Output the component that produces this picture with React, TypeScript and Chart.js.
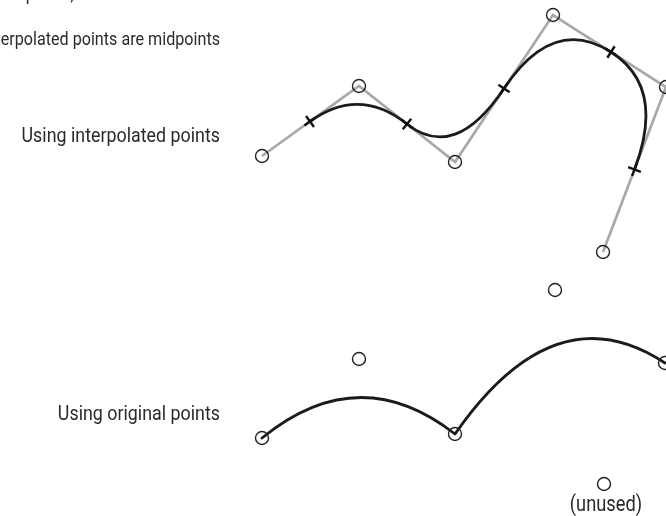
import React, { useEffect, useRef } from "react";
import { Chart, registerables } from "chart.js";

Chart.register(...registerables);

// Diagram space: x to the right, y downward, 666 x 516 units
// Upper figure: original (control) points
const topPtsX = [262, 359, 455, 553, 666, 603];
const topPtsY = [156, 86, 162, 15, 87, 252];
// Upper figure: interpolated points (midpoints of the segments)
const midPtsX = [310, 407, 504, 611, 634.5];
const midPtsY = [121.5, 124, 88.5, 52, 169.5];
// Lower figure: original points (last one unused)
const botPtsX = [262, 359, 455, 555, 665, 604];
const botPtsY = [438, 359, 434, 290, 363, 484];

// Text labels
const labelTexts = [
  "the points, used as control",
  "Interpolated points are midpoints",
  "Using interpolated points",
  "Using original points",
  "(unused)",
];
const labelX = [188, 220, 220, 220, 606];
const labelY = [0, 45, 141.5, 419.5, 511];
const labelAlign: CanvasTextAlign[] = ["right", "right", "right", "right", "center"];
const labelSize = [19, 19, 21, 21, 21.5];

const FONT = "Roboto, 'Liberation Sans', sans-serif";
const TEXT_SQUEEZE = 0.85;

const segAngles = midPtsX.map((_, i) =>
  (Math.atan2(topPtsY[i + 1] - topPtsY[i], topPtsX[i + 1] - topPtsX[i]) * 180) / Math.PI
);

const curvePlugin = {
  id: "quadCurves",
  afterDatasetDraw(chart: any, args: any) {
    if (args.index !== 0) return;
    const { ctx, chartArea } = chart;
    const xs = chart.scales.x;
    const ys = chart.scales.y;
    const px = (v: number) => xs.getPixelForValue(v);
    const py = (v: number) => ys.getPixelForValue(v);
    ctx.save();
    ctx.beginPath();
    ctx.rect(chartArea.left, chartArea.top, chartArea.right - chartArea.left, chartArea.bottom - chartArea.top);
    ctx.clip();
    ctx.strokeStyle = "#1b1b1b";
    ctx.lineWidth = 2.8;
    ctx.lineCap = "round";
    ctx.lineJoin = "round";
    // upper: quadratic segments between midpoints, original points as control points
    ctx.beginPath();
    ctx.moveTo(px(midPtsX[0]), py(midPtsY[0]));
    for (let i = 1; i < midPtsX.length; i++) {
      ctx.quadraticCurveTo(px(topPtsX[i]), py(topPtsY[i]), px(midPtsX[i]), py(midPtsY[i]));
    }
    ctx.stroke();
    // lower: quadratic segments using the original points directly
    ctx.beginPath();
    ctx.moveTo(px(botPtsX[0]), py(botPtsY[0]));
    for (let i = 1; i + 1 < botPtsX.length; i += 2) {
      ctx.quadraticCurveTo(px(botPtsX[i]), py(botPtsY[i]), px(botPtsX[i + 1]), py(botPtsY[i + 1]));
    }
    ctx.stroke();
    ctx.restore();
  },
};

const textPlugin = {
  id: "diagramText",
  afterDraw(chart: any) {
    const { ctx } = chart;
    const xs = chart.scales.x;
    const ys = chart.scales.y;
    labelTexts.forEach((t, i) => {
      ctx.save();
      ctx.fillStyle = "#2a2a2a";
      ctx.textBaseline = "alphabetic";
      ctx.font = `${labelSize[i]}px ${FONT}`;
      ctx.textAlign = labelAlign[i];
      ctx.translate(xs.getPixelForValue(labelX[i]), ys.getPixelForValue(labelY[i]));
      ctx.scale(TEXT_SQUEEZE, 1);
      ctx.fillText(t, 0, 0);
      ctx.restore();
    });
  },
};

export default function App() {
  const ref = useRef<HTMLCanvasElement | null>(null);
  useEffect(() => {
    if (!ref.current) return;
    const circleStyle = {
      showLine: false,
      pointStyle: "circle",
      pointRadius: 6.5,
      pointBorderWidth: 1.4,
      pointBorderColor: "#222",
      pointBackgroundColor: "rgba(0,0,0,0)",
    };
    const chart = new Chart(ref.current, {
      type: "scatter",
      data: {
        datasets: [
          {
            data: topPtsX.map((x, i) => ({ x, y: topPtsY[i] })),
            showLine: true,
            borderColor: "#a8a8a8",
            borderWidth: 2.7,
            pointRadius: 0,
            tension: 0,
            order: 10,
          } as any,
          {
            data: topPtsX.map((x, i) => ({ x, y: topPtsY[i] })),
            ...circleStyle,
            order: 1,
          },
          {
            data: midPtsX.map((x, i) => ({ x, y: midPtsY[i] })),
            showLine: false,
            pointStyle: "cross",
            pointRadius: 6.8,
            pointRotation: segAngles,
            pointBorderWidth: 2.4,
            pointBorderColor: "#111",
            order: 2,
          },
          {
            data: botPtsX.map((x, i) => ({ x, y: botPtsY[i] })),
            ...circleStyle,
            order: 1,
          },
        ],
      },
      options: {
        responsive: false,
        animation: false,
        events: [],
        layout: { padding: 0, autoPadding: false },
        plugins: { legend: { display: false }, tooltip: { enabled: false }, title: { display: false } },
        scales: {
          x: { type: "linear", min: 0, max: 666, display: false },
          y: { type: "linear", min: 0, max: 516, reverse: true, display: false },
        },
      },
      plugins: [curvePlugin, textPlugin],
    } as any);
    return () => chart.destroy();
  }, []);
  return (
    <div style={{ position: "fixed", left: 0, top: 0, width: 666, height: 516, background: "#fff" }}>
      <canvas ref={ref} width={666} height={516} style={{ display: "block" }} />
    </div>
  );
}
